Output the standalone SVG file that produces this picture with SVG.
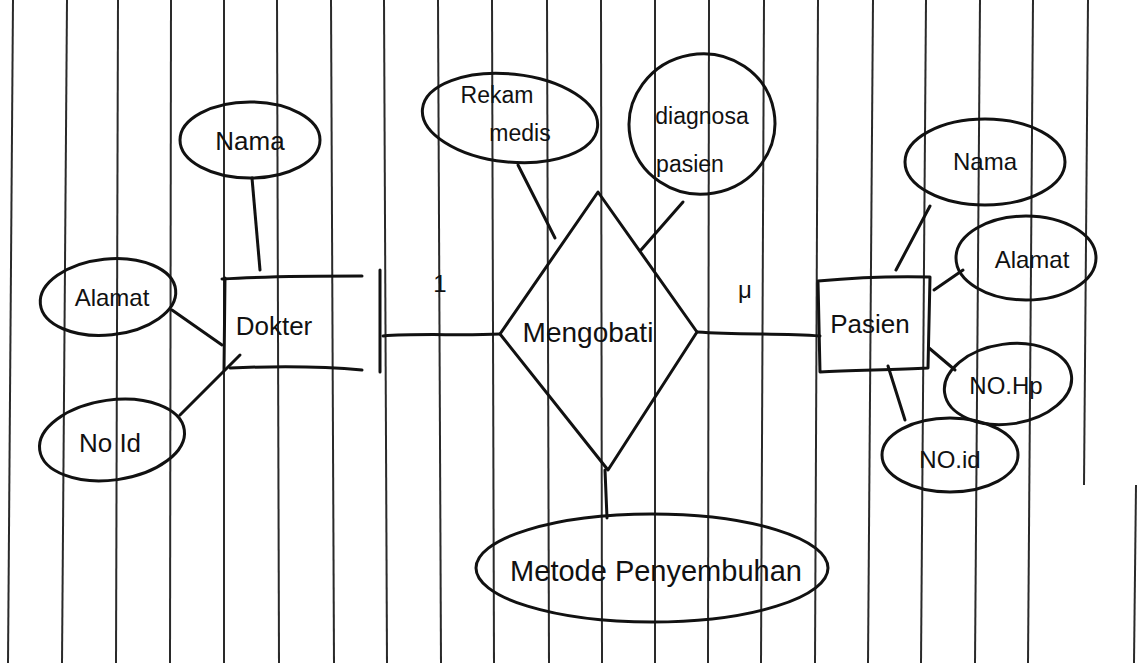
<svg xmlns="http://www.w3.org/2000/svg" width="1140" height="663" viewBox="0 0 1140 663">
<style>
.rule{stroke:#2a2a2a;stroke-width:2;fill:none}
.ink{stroke:#111;stroke-width:3;fill:none;stroke-linecap:round;stroke-linejoin:round}
.t{font-family:"Liberation Sans","DejaVu Sans",sans-serif;fill:#111;text-anchor:middle}
</style>
<rect width="1140" height="663" fill="#fff"/>
<g id="paper">
<line class="rule" x1="13" y1="0" x2="8" y2="663"/>
<line class="rule" x1="67" y1="0" x2="62" y2="663"/>
<line class="rule" x1="118" y1="0" x2="116" y2="663"/>
<line class="rule" x1="171" y1="0" x2="170" y2="663"/>
<line class="rule" x1="224" y1="0" x2="224" y2="663"/>
<line class="rule" x1="277" y1="0" x2="279" y2="663"/>
<line class="rule" x1="331" y1="0" x2="334" y2="663"/>
<line class="rule" x1="384" y1="0" x2="387" y2="663"/>
<line class="rule" x1="438" y1="0" x2="441" y2="663"/>
<line class="rule" x1="492" y1="0" x2="494" y2="663"/>
<line class="rule" x1="547" y1="0" x2="549" y2="663"/>
<line class="rule" x1="601" y1="0" x2="602" y2="663"/>
<line class="rule" x1="655" y1="0" x2="655" y2="663"/>
<line class="rule" x1="709" y1="0" x2="708" y2="663"/>
<line class="rule" x1="764" y1="0" x2="761" y2="663"/>
<line class="rule" x1="818" y1="0" x2="815" y2="663"/>
<line class="rule" x1="873" y1="0" x2="868" y2="663"/>
<line class="rule" x1="926" y1="0" x2="921" y2="663"/>
<line class="rule" x1="980" y1="0" x2="975" y2="663"/>
<line class="rule" x1="1033" y1="0" x2="1028" y2="663"/>
<line class="rule" x1="1088" y1="0" x2="1084" y2="485"/>
<line class="rule" x1="1136" y1="485" x2="1134" y2="663"/>
</g>
<g id="connectors">
<path class="ink" d="M252,178 L260,270"/>
<path class="ink" d="M172,310 L222,345"/>
<path class="ink" d="M180,415 L240,355"/>
<path class="ink" d="M383,336 C420,333 460,336 500,334"/>
<path class="ink" d="M697,332 C740,335 780,333 820,336"/>
<path class="ink" d="M518,165 L555,238"/>
<path class="ink" d="M683,202 L641,250"/>
<path class="ink" d="M605,470 L607,518"/>
<path class="ink" d="M930,206 L896,270"/>
<path class="ink" d="M963,270 L934,290"/>
<path class="ink" d="M929,348 L955,370"/>
<path class="ink" d="M888,366 L905,420"/>
<text class="t" x="440" y="292" font-size="24">1</text>
<text class="t" x="745" y="298" font-size="24">μ</text>
</g>
<g id="dokter">
<path class="ink" d="M222,279 C270,276 320,276 362,276"/>
<path class="ink" d="M225,278 L224,370"/>
<path class="ink" d="M230,368 C275,366 320,366 362,370"/>
<path class="ink" d="M380,270 L380,372" stroke-width="4"/>
<text class="t" x="274" y="335" font-size="26">Dokter</text>
</g>
<g id="dokter-nama">
<ellipse class="ink" cx="250" cy="140" rx="70" ry="38"/>
<text class="t" x="250" y="150" font-size="26">Nama</text>
</g>
<g id="dokter-alamat">
<ellipse class="ink" cx="108" cy="297" rx="68" ry="38" transform="rotate(-6 108 297)"/>
<text class="t" x="112" y="306" font-size="24">Alamat</text>
</g>
<g id="dokter-noid">
<ellipse class="ink" cx="112" cy="440" rx="73" ry="40" transform="rotate(-8 112 440)"/>
<text class="t" x="110" y="452" font-size="26">No Id</text>
</g>
<g id="mengobati">
<path class="ink" d="M598,192 L697,332 L608,470 L500,334 Z"/>
<text class="t" x="588" y="342" font-size="28">Mengobati</text>
</g>
<g id="rekam-medis">
<ellipse class="ink" cx="510" cy="118" rx="88" ry="44" transform="rotate(6 510 118)"/>
<text class="t" x="497" y="103" font-size="23">Rekam</text>
<text class="t" x="520" y="141" font-size="23">medis</text>
</g>
<g id="diagnosa-pasien">
<ellipse class="ink" cx="702" cy="124" rx="73" ry="70" transform="rotate(-10 702 124)"/>
<text class="t" x="702" y="124" font-size="23">diagnosa</text>
<text class="t" x="690" y="172" font-size="23">pasien</text>
</g>
<g id="metode">
<ellipse class="ink" cx="652" cy="568" rx="176" ry="54"/>
<text class="t" x="656" y="581" font-size="29">Metode Penyembuhan</text>
</g>
<g id="pasien">
<path class="ink" d="M818,281 C850,278 890,276 930,277 L928,368 C890,370 850,370 820,372 Z"/>
<text class="t" x="870" y="333" font-size="26">Pasien</text>
</g>
<g id="pasien-nama">
<ellipse class="ink" cx="985" cy="162" rx="80" ry="43"/>
<text class="t" x="985" y="170" font-size="24">Nama</text>
</g>
<g id="pasien-alamat">
<ellipse class="ink" cx="1026" cy="258" rx="70" ry="42"/>
<text class="t" x="1032" y="268" font-size="24">Alamat</text>
</g>
<g id="pasien-nohp">
<ellipse class="ink" cx="1008" cy="384" rx="64" ry="40" transform="rotate(-8 1008 384)"/>
<text class="t" x="1006" y="394" font-size="24">NO.Hp</text>
</g>
<g id="pasien-noid">
<ellipse class="ink" cx="950" cy="455" rx="68" ry="37"/>
<text class="t" x="950" y="468" font-size="24">NO.id</text>
</g>
</svg>
